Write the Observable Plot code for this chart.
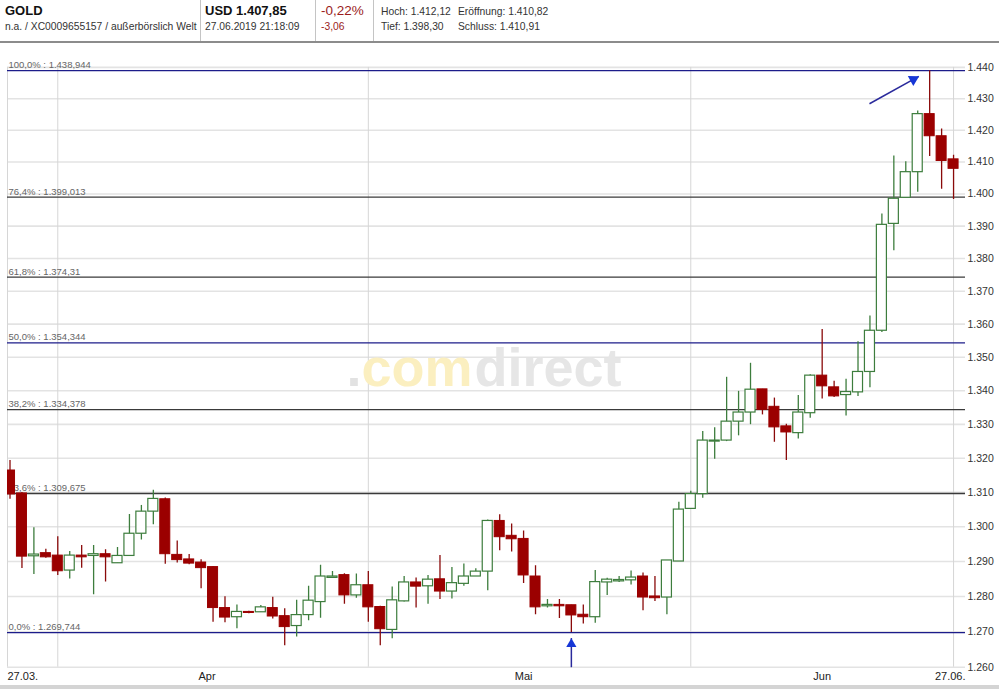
<!DOCTYPE html>
<html><head><meta charset="utf-8">
<script src="https://cdn.jsdelivr.net/npm/d3@7"></script>
<script src="https://cdn.jsdelivr.net/npm/@observablehq/plot@0.6"></script>
<style>
body{margin:0;background:#fff;font-family:"Liberation Sans",Arial,sans-serif;}
#wrap{position:relative;width:999px;height:689px;overflow:hidden;}
#hdr{position:relative;height:43px;border-bottom:2px solid #8c8c8c;box-sizing:border-box;color:#333;}
#hdr span{position:absolute;white-space:nowrap;}
.sep{position:absolute;top:0;width:1px;height:41px;background:#c4c4c4;}
.big{font-size:13px;font-weight:bold;color:#111;top:3px;}
.small{font-size:10.3px;top:21px;}
.small1{font-size:10.3px;top:6px;}
#foot{position:absolute;left:0;top:685px;width:999px;height:4px;background:#d4d4d4;}
</style></head><body>
<div id="wrap">
<div id="hdr">
 <span class="big" style="left:5px">GOLD</span>
 <span class="small" style="left:5px">n.a. / XC0009655157 / außerbörslich Welt</span>
 <div class="sep" style="left:200px"></div>
 <span class="big" style="left:205px">USD 1.407,85</span>
 <span class="small" style="left:205px">27.06.2019 21:18:09</span>
 <div class="sep" style="left:315px"></div>
 <span style="left:321px;top:3px;font-size:13.5px;color:#9a1c1c">-0,22%</span>
 <span class="small" style="left:321px;color:#9a1c1c">-3,06</span>
 <div class="sep" style="left:373px"></div>
 <span class="small1" style="left:381px">Hoch: 1.412,12</span>
 <span class="small1" style="left:458px">Eröffnung: 1.410,82</span>
 <span class="small" style="left:381px">Tief: 1.398,30</span>
 <span class="small" style="left:458px">Schluss: 1.410,91</span>
</div>
<div id="chart"></div>
<div id="foot"></div>
</div>
<script>
// ---- data ----
const opens  = [1316.4,1309.7,1291.5,1292.4,1291.7,1287.4,1291.7,1291.6,1292.1,1289.5,
                1291.6,1298.0,1304.4,1308.0,1291.9,1290.6,1289.7,1288.4,1276.7,1274.1,
                1275.6,1275.5,1276.7,1274.4,1271.6,1274.7,1278.4,1285.3,1286.1,1280.3,
                1283.2,1277.0,1270.5,1278.6,1284.0,1282.9,1284.9,1281.4,1283.6,1285.7,
                1287.1,1301.7,1297.4,1296.5,1285.7,1277.2,1277.6,1277.5,1274.8,1274.1,
                1284.0,1284.3,1284.6,1285.7,1280.0,1279.7,1290.0,1305.2,1309.5,1324.9,
                1325.2,1330.8,1333.5,1340.4,1335.2,1329.4,1327.4,1333.3,1344.5,1341.0,
                1338.7,1339.5,1345.6,1358.0,1390.7,1398.8,1406.8,1425.1,1418.1,1410.82];
const highs  = [1319.3,1310.0,1299.7,1293.5,1297.1,1292.9,1294.6,1294.6,1293.4,1294.0,
                1303.6,1306.2,1310.6,1308.4,1295.9,1292.0,1290.5,1288.6,1279.9,1277.6,
                1275.8,1277.4,1279.8,1276.5,1278.9,1282.9,1288.9,1287.1,1286.5,1286.4,
                1287.1,1277.2,1282.7,1285.7,1285.3,1286.0,1291.7,1288.3,1289.3,1287.9,
                1302.0,1303.5,1300.8,1298.8,1288.8,1279.1,1279.1,1277.5,1277.6,1287.4,
                1285.2,1285.7,1287.3,1286.7,1285.7,1290.3,1307.1,1310.3,1327.9,1329.0,
                1344.0,1339.8,1348.2,1340.4,1337.8,1330.0,1338.6,1344.8,1358.4,1342.8,
                1343.4,1354.7,1362.5,1393.8,1411.9,1410.1,1426.1,1438.944,1420.4,1412.12];
const lows   = [1308.0,1288.0,1286.3,1290.9,1286.0,1285.0,1288.1,1280.5,1284.1,1289.5,
                1291.6,1296.2,1300.6,1289.2,1289.6,1289.1,1282.2,1272.7,1272.5,1270.8,
                1275.1,1275.5,1273.6,1266.0,1268.5,1273.1,1273.8,1285.1,1277.8,1279.5,
                1272.7,1266.0,1268.0,1278.4,1276.7,1277.8,1279.1,1279.3,1282.9,1285.7,
                1281.6,1293.1,1292.7,1283.7,1274.8,1276.7,1273.7,1269.744,1272.2,1272.4,
                1280.3,1284.0,1283.3,1275.9,1278.6,1274.8,1290.0,1305.2,1308.3,1319.7,
                1324.9,1326.6,1329.9,1332.8,1324.7,1319.3,1325.7,1331.8,1337.5,1338.0,
                1332.5,1338.3,1340.9,1357.5,1382.4,1398.7,1400.5,1411.7,1401.5,1398.30];
const closes = [1309.4,1291.4,1292.0,1291.2,1287.2,1291.7,1291.2,1292.1,1291.2,1291.6,
                1298.0,1304.4,1308.1,1292.1,1290.4,1289.4,1288.1,1276.7,1274.0,1275.6,
                1275.3,1276.9,1274.3,1271.3,1274.7,1278.8,1285.7,1285.7,1280.3,1283.2,
                1276.9,1270.7,1278.9,1284.0,1282.8,1284.8,1281.4,1283.8,1285.7,1287.1,
                1301.7,1297.0,1296.4,1286.0,1276.9,1277.6,1277.2,1274.6,1274.1,1284.1,
                1284.8,1284.7,1285.4,1279.7,1279.5,1290.3,1305.0,1309.5,1325.2,1325.2,
                1330.8,1333.5,1340.3,1334.3,1329.1,1327.6,1333.5,1344.5,1341.3,1338.3,
                1339.6,1345.6,1358.0,1390.4,1398.5,1406.8,1425.1,1418.1,1410.3,1407.85];

const yTicks = [1260,1270,1280,1290,1300,1310,1320,1330,1340,1350,1360,1370,1380,1390,1400,1410,1420,1430,1440];
const fibPct   = ["100,0%","76,4%","61,8%","50,0%","38,2%","23,6%","0,0%"];
const fibValue = [1438.944,1399.013,1374.31,1354.344,1334.378,1309.675,1269.744];
const fibText  = ["1.438,944","1.399,013","1.374,31","1.354,344","1.334,378","1.309,675","1.269,744"];
const monthNums  = [3,4,5];
const monthNames = ["Apr","Mai","Jun"];
const firstLabel = "27.03.", lastLabel = "27.06.";
// annotation arrows (index, price)
const arrowStart = [{i:71.96,p:1428.4},{i:47,p:1260}];
const arrowTip   = [{i:76.09,p:1437.1},{i:47,p:1268.2}];

// ---- trading days (all days except Saturdays) ----
const dates = [];
for (let d = new Date(2019,2,27); d <= new Date(2019,5,27); d.setDate(d.getDate()+1))
  if (d.getDay() !== 6) dates.push(new Date(d));
const candles = dates.map((date,i)=>({i,date,open:opens[i],high:highs[i],low:lows[i],close:closes[i]}));
const upC = candles.filter(d=>d.close>=d.open);
const dnC = candles.filter(d=>d.close<d.open);
const fib = fibPct.map((p,k)=>({p, v:fibValue[k], t:`${p} : ${fibText[k]}`}));
const blueSet = new Set(["100,0%","50,0%","0,0%"]);
const monthStarts = monthNums.map(m=>candles.findIndex(c=>c.date.getMonth()===m));
const monthLabels = monthNums.map((m,k)=>({name:monthNames[k], i:d3.mean(candles.filter(c=>c.date.getMonth()===m),c=>c.i)}));
const lastIdx = candles.length-1;
const xDomain = [-0.21, lastIdx+1.0];
const arrows = arrowStart.map((s,k)=>({x1:s.i,y1:s.p,x2:arrowTip[k].i,y2:arrowTip[k].p}));

const GREEN="#3d7d3d", RED="#9b0000", RED_W="#8a0a0a";
const hw = 0.42;

const chart = Plot.plot({
  width:999, height:641,
  marginTop:23.9, marginBottom:17.3, marginLeft:7, marginRight:34,
  style:{fontFamily:"'Liberation Sans', Arial, sans-serif", fontSize:"10.5px", color:"#333", background:"transparent", overflow:"visible"},
  x:{type:"linear", domain:xDomain, axis:null},
  y:{type:"log", domain:[1260,1440], axis:null},
  marks:[
    Plot.ruleY(yTicks, {stroke:"#e3e3e3", strokeWidth:1.6}),
    Plot.ruleX([xDomain[0], ...monthStarts, lastIdx], {stroke:"#d6d6d6", strokeWidth:1}),
    Plot.text(["."], {frameAnchor:"top-left", dx:354, dy:319, lineAnchor:"bottom", textAnchor:"end", fontSize:54, fontWeight:"bold", fill:"#e2e2e2"}),
    Plot.text(["com"], {frameAnchor:"top-left", dx:465, dy:319, lineAnchor:"bottom", textAnchor:"end", fontSize:54, fontWeight:"bold", fill:"#fbefc0"}),
    Plot.text(["direct"], {frameAnchor:"top-left", dx:467, dy:319, lineAnchor:"bottom", textAnchor:"start", fontSize:54, fontWeight:"bold", fill:"#e6e6e6"}),
    Plot.ruleY(fib.filter(d=>!blueSet.has(d.p)), {y:"v", stroke:"#3a3a3a", strokeWidth:1.3}),
    Plot.ruleY(fib.filter(d=>blueSet.has(d.p)), {y:"v", stroke:"#1c1c8a", strokeWidth:1.3}),
    Plot.text(fib, {y:"v", text:"t", frameAnchor:"left", textAnchor:"start", lineAnchor:"bottom", dx:1, dy:-2.5, fontSize:9.5, fill:"#666"}),
    Plot.ruleX(upC, {x:"i", y1:"low", y2:"high", stroke:GREEN, strokeWidth:1.3, clip:true}),
    Plot.ruleX(dnC, {x:"i", y1:"low", y2:"high", stroke:RED_W, strokeWidth:1.3, clip:true}),
    Plot.rect(upC, {x1:d=>d.i-hw, x2:d=>d.i+hw, y1:"open", y2:"close", fill:"white", stroke:GREEN, strokeWidth:1.2, clip:true}),
    Plot.rect(dnC, {x1:d=>d.i-hw, x2:d=>d.i+hw, y1:"open", y2:"close", fill:RED, stroke:RED, strokeWidth:1, clip:true}),
    Plot.link(arrows, {x1:"x1", y1:"y1", x2:"x2", y2:"y2", stroke:"#2a2a9c", strokeWidth:1.5}),
    Plot.dot([arrows[0]], {x:"x2", y:"y2", symbol:"triangle", r:4.2, rotate:61, fill:"#1636d6", stroke:"none", dx:-5.4, dy:3.0}),
    Plot.dot([arrows[1]], {x:"x2", y:"y2", symbol:"triangle", r:3.8, fill:"#1636d6", stroke:"none", dy:6.0}),
    Plot.axisY({ticks:yTicks, anchor:"right", tickSize:0, tickPadding:2, tickFormat:d=>d3.format(",")(d).replace(",", "."), label:null, fill:"#333"}),
    Plot.text([firstLabel], {frameAnchor:"bottom-left", textAnchor:"start", lineAnchor:"middle", dy:9.3, fontSize:11, fill:"#222"}),
    Plot.text([lastLabel], {frameAnchor:"bottom-right", textAnchor:"end", lineAnchor:"middle", dy:9.3, fontSize:11, fill:"#222"}),
    Plot.text(monthLabels, {x:"i", text:"name", frameAnchor:"bottom", textAnchor:"middle", lineAnchor:"middle", dy:9.3, fontSize:11, fill:"#222"})
  ]
});
document.getElementById("chart").appendChild(chart);
</script>
</body></html>
